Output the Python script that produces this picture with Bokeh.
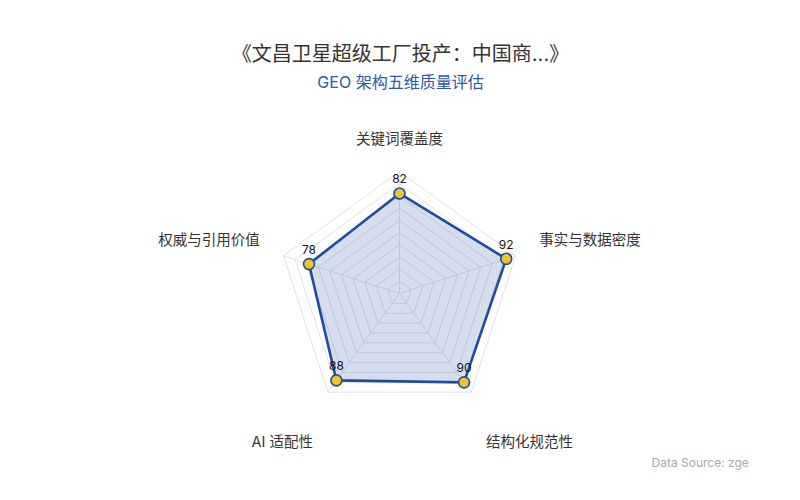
import math
from bokeh.plotting import figure
from bokeh.models import Range1d, ColumnDataSource
from bokeh.core.properties import value
from bokeh.embed import file_html
from bokeh.resources import INLINE

# ---- data ----
categories = ["关键词覆盖度", "事实与数据密度", "结构化规范性", "AI 适配性", "权威与引用价值"]
scores = [82, 92, 90, 88, 78]
max_score = 100
ring_levels = [10, 20, 30, 40, 50, 60, 70, 80, 90, 100]
title_text = "《文昌卫星超级工厂投产：中国商...》"
subtitle_text = "GEO 架构五维质量评估"
source_text = "Data Source: zge"

# ---- layout (pixel-like data units) ----
W, H = 784, 484
CX, CY = 399, 191
R = 122
FONT = "Inter, 'Noto Sans CJK SC', sans-serif"

p = figure(width=W, height=H, output_backend="svg", toolbar_location=None,
           x_range=Range1d(0, W), y_range=Range1d(0, H), min_border=0)
p.axis.visible = False
p.grid.visible = False
p.outline_line_color = None
p.background_fill_color = "white"
p.border_fill_color = "white"

n = len(categories)
angles = [math.radians(90 - 360.0 / n * i) for i in range(n)]

def pt(v, a):
    r = R * v / max_score
    return CX + r * math.cos(a), CY + r * math.sin(a)

# rings
ring_xs, ring_ys = [], []
for lv in ring_levels:
    pts = [pt(lv, a) for a in angles]
    ring_xs.append([q[0] for q in pts] + [pts[0][0]])
    ring_ys.append([q[1] for q in pts] + [pts[0][1]])
p.multi_line(ring_xs, ring_ys, line_color="#e2e2e2", line_width=1)

# spokes
sp_xs, sp_ys = [], []
for a in angles:
    ex, ey = pt(max_score, a)
    sp_xs.append([CX, ex]); sp_ys.append([CY, ey])
p.multi_line(sp_xs, sp_ys, line_color="#e2e2e2", line_width=1)

# series
dpts = [pt(v, a) for v, a in zip(scores, angles)]
dx = [q[0] for q in dpts]
dy = [q[1] for q in dpts]
p.patch(dx + [dx[0]], dy + [dy[0]], fill_color="#2b5bab", fill_alpha=0.2,
        line_color="#1e4d9d", line_width=2.6)
p.scatter(dx, dy, size=11, fill_color="#f2c12e", line_color="#1e4d9d", line_width=1.6)

# value labels
p.text(dx, [y + 10 for y in dy], text=[str(v) for v in scores], text_align="center",
       text_baseline="bottom", text_font=value(FONT), text_font_size="12px",
       text_color="#111111")

# axis names
gap = 25
nx, ny, na, nb = [], [], [], []
for a in angles:
    c, s = math.cos(a), math.sin(a)
    x = CX + (R + gap) * c
    y = CY + (R + gap) * s
    if abs(c) < 0.1:
        al = "center"
    elif c > 0:
        al = "left"
    else:
        al = "right"
    if s < -0.5:
        y -= 21
        bl = "top"
    else:
        bl = "bottom"
    nx.append(x); ny.append(y); na.append(al); nb.append(bl)
src = ColumnDataSource(dict(x=nx, y=ny, t=categories, a=na, b=nb))
p.text("x", "y", text="t", text_align="a", text_baseline="b", source=src,
       text_font=value(FONT), text_font_size="14.5px", text_color="#333333")

# titles
p.text([400], [431], text=[title_text], text_align="center", text_baseline="middle",
       text_font=value(FONT), text_font_size="20px", text_color="#333333")
p.text([400], [403], text=[subtitle_text], text_align="center", text_baseline="middle",
       text_font=value(FONT), text_font_size="16px", text_color="#2a5aa8")
p.text([651], [22], text=[source_text], text_align="left", text_baseline="middle",
       text_font=value(FONT), text_font_size="12px", text_color="#aaaaaa")

open("out.html", "w").write(file_html(p, INLINE))
